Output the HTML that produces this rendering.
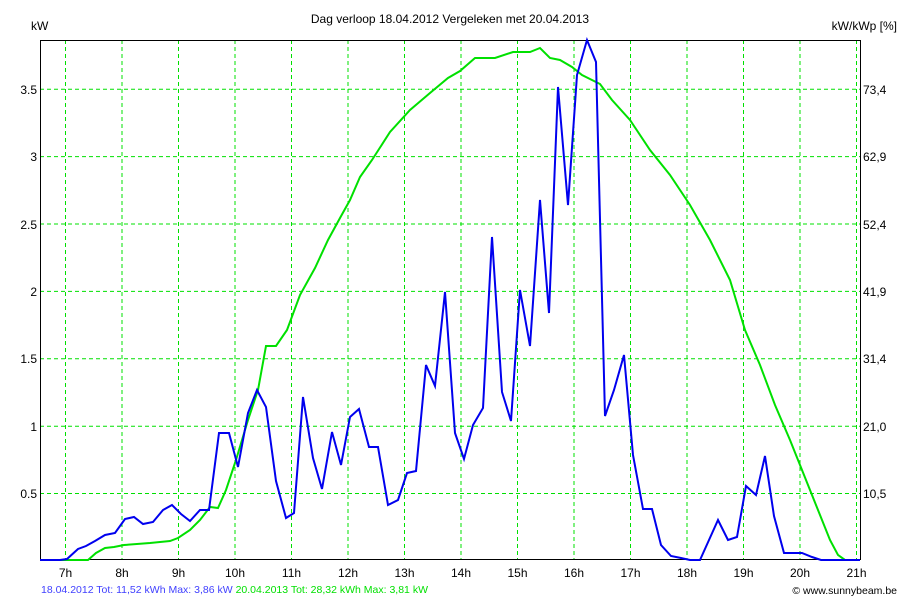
<!DOCTYPE html>
<html><head><meta charset="utf-8"><style>
body{margin:0;background:#fff;}
svg{display:block;font-family:"Liberation Sans",sans-serif;}
</style></head><body>
<svg width="900" height="600" viewBox="0 0 900 600">
<rect width="900" height="600" fill="#fff"/>
<g stroke="#00e000" stroke-dasharray="4,3" stroke-width="1">
<line x1="65.5" y1="40" x2="65.5" y2="559"/><line x1="122" y1="40" x2="122" y2="559"/>
<line x1="178.5" y1="40" x2="178.5" y2="559"/><line x1="235" y1="40" x2="235" y2="559"/>
<line x1="291.5" y1="40" x2="291.5" y2="559"/><line x1="348" y1="40" x2="348" y2="559"/>
<line x1="404.5" y1="40" x2="404.5" y2="559"/><line x1="461" y1="40" x2="461" y2="559"/>
<line x1="517.5" y1="40" x2="517.5" y2="559"/><line x1="574" y1="40" x2="574" y2="559"/>
<line x1="630.5" y1="40" x2="630.5" y2="559"/><line x1="687" y1="40" x2="687" y2="559"/>
<line x1="743.5" y1="40" x2="743.5" y2="559"/><line x1="800" y1="40" x2="800" y2="559"/>
<line x1="856.5" y1="40" x2="856.5" y2="559"/>
<line x1="40" y1="493.5" x2="860" y2="493.5"/><line x1="40" y1="426.2" x2="860" y2="426.2"/>
<line x1="40" y1="358.8" x2="860" y2="358.8"/><line x1="40" y1="291.4" x2="860" y2="291.4"/>
<line x1="40" y1="224" x2="860" y2="224"/><line x1="40" y1="156.6" x2="860" y2="156.6"/>
<line x1="40" y1="89.2" x2="860" y2="89.2"/>
</g>
<rect x="40.5" y="40.5" width="820" height="519" fill="none" stroke="#000" stroke-width="1"/>
<polyline fill="none" stroke="#00e000" stroke-width="2" points="40,560 88,560 96,553 105,548 114,547 124,545 150,543 170,541 178,538 190,530 200,520 210,507 218,508 226,490 236,460 248,420 258,390 266,346 276,346 287,330 300,295 315,268 328,240 340,218 350,200 360,177 372,160 390,132 410,110 430,93 448,78 460,71 475,58 495,58 513,52 530,52 540,48 550,58 560,60 572,67 582,75 600,84 612,100 630,120 650,150 670,175 690,205 710,240 730,280 745,330 760,365 775,405 790,440 800,465 810,490 820,515 830,540 838,555 845,560 860,560"/>
<polyline fill="none" stroke="#0000ee" stroke-width="2" points="40,560 60,560 67,559 78,549 86,546 95,541 105,535 115,533 125,519 134,517 143,524 153,522 163,510 172,505 181,514 190,521 200,510 209,510 219,433 229,433 238,467 248,413 257,390 266,407 276,481 286,518 294,513 303,397 313,458 322,489 332,432 341,465 350,417 359,409 369,447 378,447 388,505 398,500 407,473 416,471 426,365 435,386 445,292 455,433 464,459 473,425 483,408 492,237 502,392 511,421 520,290 530,346 540,200 549,313 558,87 568,205 577,75 587,40 596,62 605,416 614,390 624,355 633,455 643,509 652,509 661,545 671,556 681,558 690,560 700,560 709,540 718,520 728,540 737,537 746,486 756,495 765,456 774,516 784,553 793,553 802,553 812,557 821,560 860,560"/>
<g font-size="12" fill="#000">
<text x="450" y="23" text-anchor="middle">Dag  verloop 18.04.2012   Vergeleken met 20.04.2013</text>
<text x="31" y="30">kW</text>
<text x="897" y="30" text-anchor="end">kW/kWp [%]</text>
<g text-anchor="end">
<text x="37" y="498">0.5</text><text x="37" y="431">1</text><text x="37" y="363">1.5</text>
<text x="37" y="296">2</text><text x="37" y="229">2.5</text><text x="37" y="161">3</text><text x="37" y="94">3.5</text>
</g>
<g>
<text x="863" y="498">10,5</text><text x="863" y="431">21,0</text><text x="863" y="363">31,4</text>
<text x="863" y="296">41,9</text><text x="863" y="229">52,4</text><text x="863" y="161">62,9</text><text x="863" y="94">73,4</text>
</g>
<g text-anchor="middle">
<text x="65.5" y="577">7h</text><text x="122" y="577">8h</text><text x="178.5" y="577">9h</text>
<text x="235" y="577">10h</text><text x="291.5" y="577">11h</text><text x="348" y="577">12h</text>
<text x="404.5" y="577">13h</text><text x="461" y="577">14h</text><text x="517.5" y="577">15h</text>
<text x="574" y="577">16h</text><text x="630.5" y="577">17h</text><text x="687" y="577">18h</text>
<text x="743.5" y="577">19h</text><text x="800" y="577">20h</text><text x="856.5" y="577">21h</text>
</g>
</g>
<text x="41" y="593" font-size="10.5"><tspan fill="#4040ff">18.04.2012 Tot: 11,52 kWh Max: 3,86 kW </tspan><tspan fill="#00e000">20.04.2013 Tot: 28,32 kWh Max: 3,81 kW</tspan></text>
<text x="897" y="594" font-size="10.5" text-anchor="end" fill="#000">© www.sunnybeam.be</text>
</svg>
</body></html>
